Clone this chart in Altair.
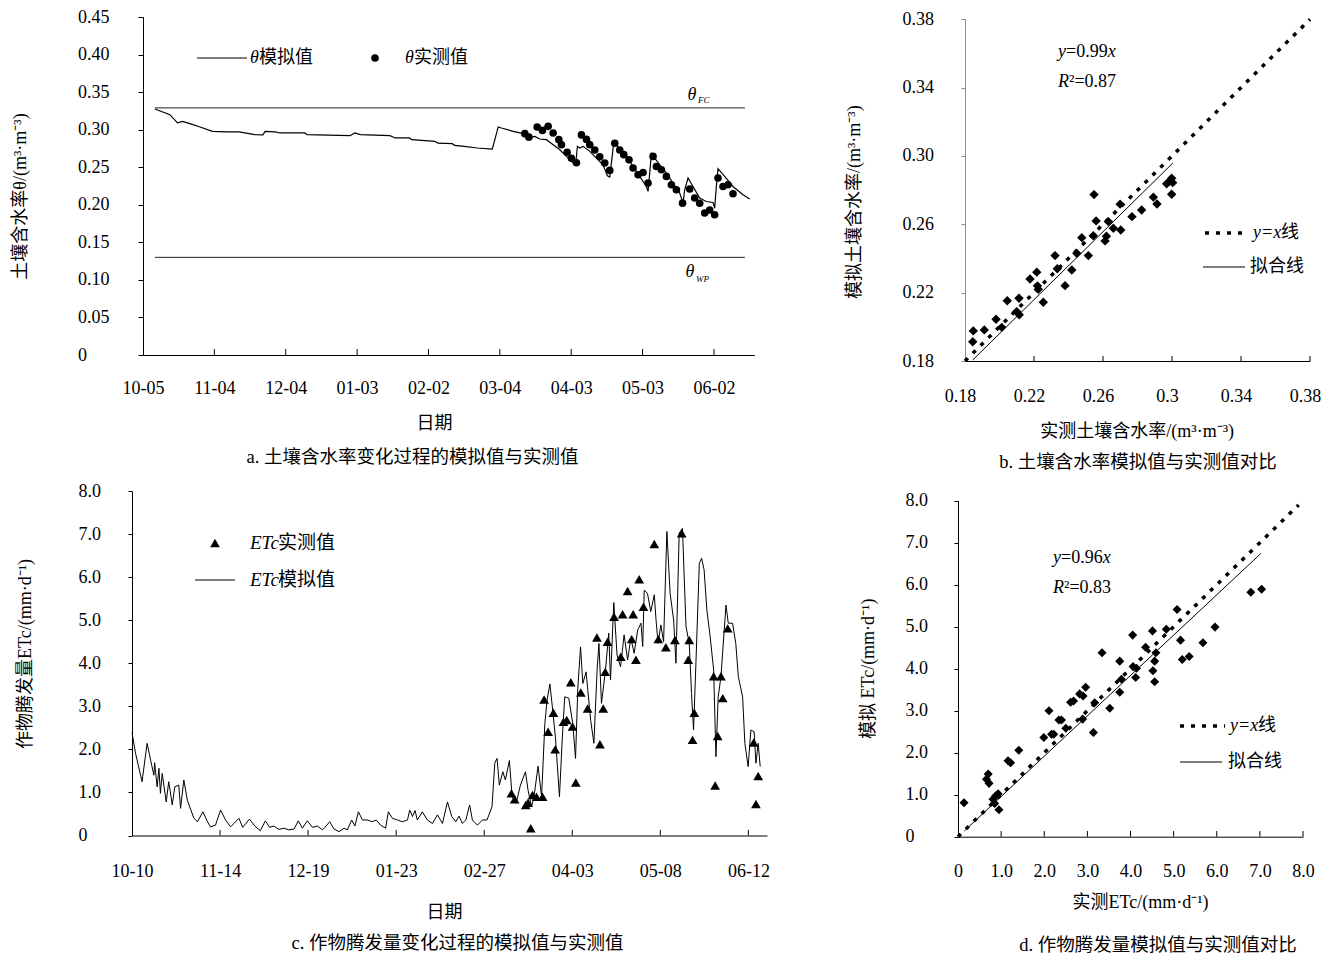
import altair as alt
import pandas as pd

FONT = "Liberation Serif, Noto Sans CJK SC"
ROW = pd.DataFrame({"k": [0]})

# ---------------- panel a : soil water content time series ----------------
a_sim = [(5, 0.3276), (11.3, 0.320), (14.5, 0.309), (16.6, 0.311), (19.7, 0.308), (24, 0.3036),
         (29.2, 0.2977), (35.5, 0.297), (40.4, 0.297), (47, 0.2933), (50.4, 0.293), (51.3, 0.2977),
         (55.5, 0.297), (57.6, 0.2956), (68, 0.2956), (69, 0.2933), (87, 0.292), (89, 0.2956),
         (91.4, 0.2933), (103.8, 0.292), (106, 0.289), (112, 0.289), (113, 0.2867), (122.7, 0.2844),
         (124, 0.282), (130, 0.2813), (131, 0.279), (135, 0.2778), (140.5, 0.2756), (146.8, 0.2742),
         (147.9, 0.2867), (149.3, 0.3036), (150.7, 0.3022), (155.6, 0.2978), (159.8, 0.2947),
         (162.6, 0.2898), (164.7, 0.2911), (166.8, 0.2876), (169.6, 0.2867), (172.4, 0.28),
         (175.2, 0.2733), (178, 0.2644), (180.8, 0.2556), (181.9, 0.2547), (182.6, 0.2778),
         (183.6, 0.2756), (185, 0.2778), (187.8, 0.2711), (190.6, 0.2622), (193.4, 0.2533),
         (195.2, 0.2387), (196.2, 0.2369), (197.3, 0.2667), (197.9, 0.2844), (200.4, 0.2742),
         (203.2, 0.2644), (206, 0.2511), (208.8, 0.2378), (211.6, 0.2244), (212.3, 0.2178),
         (213, 0.2422), (213.7, 0.268), (215.1, 0.2622), (217.2, 0.2533), (220, 0.2422),
         (222.8, 0.2289), (225.6, 0.2156), (227, 0.2022), (227.7, 0.22), (229.1, 0.2356),
         (231.2, 0.2244), (234, 0.2089), (236.8, 0.2044), (239.6, 0.2031), (240.3, 0.1956),
         (241, 0.2244), (241.7, 0.248), (244.5, 0.2378), (248, 0.2244), (252.2, 0.2133), (255, 0.2076)]
a_obs = [(160.5, 0.2947), (162.2, 0.290), (165.7, 0.3036), (167.9, 0.299), (170.3, 0.3044),
         (172.4, 0.2956), (174.8, 0.2867), (175.9, 0.28), (178.3, 0.270), (180.1, 0.262),
         (182.2, 0.256), (184.3, 0.293), (186.4, 0.287), (187.8, 0.28), (189.9, 0.273), (192, 0.264),
         (194.1, 0.2556), (196.2, 0.2458), (198.3, 0.282), (200.4, 0.273), (202.1, 0.2667),
         (204.3, 0.26), (206, 0.249), (208.1, 0.24), (210.2, 0.243), (212.3, 0.229), (214.4, 0.2644),
         (215.8, 0.251), (217.9, 0.2467), (220, 0.2378), (222.1, 0.2267), (224.2, 0.22),
         (226.8, 0.2022), (229.8, 0.221), (231.9, 0.209), (234, 0.202), (236.1, 0.189),
         (238.2, 0.193), (240.3, 0.1867), (241.7, 0.2356), (243.8, 0.2244), (245.9, 0.2267),
         (248, 0.2147)]
a_limit_days = [5, 253]
a_theta_fc = 0.329
a_theta_wp = 0.13
a_xticks = [0, 30, 60, 90, 120, 150, 180, 210, 240]
a_xlabels = ["10-05", "11-04", "12-04", "01-03", "02-02", "03-04", "04-03", "05-03", "06-02"]
a_yticks = [0, 0.05, 0.1, 0.15, 0.2, 0.25, 0.3, 0.35, 0.4, 0.45]

# ---------------- panel b : simulated vs measured soil water ----------------
b_obs = [(0.1845, 0.1913), (0.1848, 0.1976), (0.1912, 0.1982), (0.198, 0.2044), (0.2013, 0.1997),
         (0.2045, 0.2153), (0.21, 0.2089), (0.2113, 0.2167), (0.2115, 0.207), (0.2177, 0.228),
         (0.2216, 0.232), (0.222, 0.224), (0.2225, 0.222), (0.2254, 0.2144), (0.2322, 0.2417),
         (0.2335, 0.234), (0.238, 0.2241), (0.2419, 0.2333), (0.2448, 0.243), (0.2477, 0.2522),
         (0.2515, 0.2417), (0.2548, 0.2774), (0.256, 0.262), (0.2544, 0.2533), (0.262, 0.253),
         (0.2612, 0.2503), (0.2631, 0.2616), (0.266, 0.2577), (0.2703, 0.2567), (0.2699, 0.2718),
         (0.2768, 0.2645), (0.2824, 0.2684), (0.2892, 0.2759), (0.2913, 0.2719), (0.2969, 0.2837),
         (0.2984, 0.285), (0.2998, 0.287), (0.2998, 0.2776), (0.3004, 0.2844)]
b_yx = [0.18, 0.38]
b_fit_x = [0.1845, 0.3004]
b_fit_y = [0.1806, 0.2958]
b_ticks = [0.18, 0.22, 0.26, 0.3, 0.34, 0.38]

# ---------------- panel c : ETc time series ----------------
c_sim = [(0, 2.39), (1.4, 1.91), (4, 1.25), (6, 2.14), (7.4, 1.75), (8.7, 1.4), (9, 1.69), (10, 1.13),
         (10.7, 1.56), (11.3, 0.98), (12, 1.44), (13.6, 0.78), (14.6, 1.25), (16, 0.71), (17, 1.13),
         (18.6, 1.17), (19.3, 0.63), (20.6, 1.29), (22, 0.82), (24.6, 0.4), (26, 0.32), (28.2, 0.55),
         (30, 0.32), (31.2, 0.2), (33.2, 0.24), (35.2, 0.59), (37.2, 0.36), (39.2, 0.2), (42.5, 0.4),
         (44, 0.19), (46.7, 0.38), (48.8, 0.22), (51, 0.11), (53, 0.34), (54.7, 0.19), (56.4, 0.22),
         (58.4, 0.14), (60.4, 0.17), (62.4, 0.13), (64.4, 0.15), (66.1, 0.34), (67.7, 0.17),
         (69.7, 0.34), (71.7, 0.19), (73.7, 0.22), (75.7, 0.13), (76.7, 0.19), (78.6, 0.32),
         (80.3, 0.15), (82.3, 0.09), (84.3, 0.17), (85.6, 0.13), (87.3, 0.36), (88.6, 0.22),
         (90, 0.55), (91.6, 0.36), (93.6, 0.36), (95.5, 0.32), (97.1, 0.36), (98.8, 0.24),
         (100.8, 0.17), (101.9, 0.55), (103.5, 0.4), (105.5, 0.36), (107.5, 0.32), (109.5, 0.36),
         (110.4, 0.59), (111.5, 0.44), (112.5, 0.58), (113.4, 0.36), (115.4, 0.55), (117.4, 0.36),
         (119.4, 0.28), (121.4, 0.48), (123.4, 0.28), (125.4, 0.78), (127.1, 0.44), (128.7, 0.32),
         (130, 0.45), (131.3, 0.28), (132.7, 0.36), (134.2, 0.71), (135.3, 0.36), (137.3, 0.24),
         (139.3, 0.36), (141.1, 0.36), (143.1, 0.67), (144.2, 1.68), (145.1, 1.79), (146, 1.17),
         (147.4, 1.48), (148.4, 1.29), (150, 1.74), (151.1, 0.9), (152.7, 0.75), (154.4, 1.17),
         (156.4, 1.48), (157.4, 1.06), (158.8, 0.67), (159.7, 0.86), (161.4, 1.61), (162.8, 0.9),
         (164.1, 2.6), (165, 3.15), (166.1, 3.52), (167, 3.03), (168.3, 2.29), (169.9, 0.9),
         (171, 2.22), (172, 3.22), (173.6, 3.19), (175.2, 2.6), (176.3, 1.79), (177.2, 3.42),
         (178.3, 4.38), (179.2, 3.53), (180.5, 3.8), (182.3, 2.68), (183.6, 2.14), (184.9, 3.88),
         (185.6, 4.46), (186.6, 3.07), (188.2, 3.84), (189.5, 4.7), (190.2, 3.61), (191.5, 5.41),
         (192.8, 4.19), (194.2, 3.92), (195.6, 4.66), (197, 4.08), (198.3, 4.58), (199.6, 4.23),
         (201, 4.77), (202.3, 4.93), (203, 4.39), (203.6, 5.7), (204.9, 5.62), (206.2, 5.2),
         (207.6, 5.59), (208.3, 5.0), (209.1, 4.46), (210.2, 4.89), (211.3, 4.5), (212.6, 7.06),
         (213.9, 5.62), (215.3, 5.0), (216.2, 4.0), (217.5, 7.02), (218.8, 7.13), (220.2, 4.85),
         (221.5, 4.46), (222.4, 3.3), (223.2, 2.45), (224.1, 3.92), (225.5, 6.32), (226.4, 6.44),
         (227.4, 6.17), (228.5, 5.24), (229.8, 4.62), (231.2, 3.84), (232.1, 1.83), (233, 3.22),
         (234.1, 3.69), (235.4, 4.77), (236.1, 5.35), (237, 4.93), (238.7, 4.93), (240, 4.46),
         (241, 3.69), (242.7, 3.22), (243.6, 2.14), (244.9, 1.6), (246, 2.45), (247.3, 2.41),
         (248, 1.68), (248.9, 2.14), (249.7, 1.6)]
c_obs = [(150.8, 0.98), (152.1, 0.84), (156.5, 0.71), (157.4, 0.76), (158.5, 0.17), (159.2, 0.94),
         (160.8, 0.9), (163.2, 0.9), (163.8, 3.16), (165.4, 2.41), (167.5, 2.85), (168.2, 2.0),
         (171.5, 2.64), (172.8, 2.68), (174.4, 3.56), (175.1, 2.53), (176.4, 1.23), (178.4, 3.32),
         (181.1, 2.95), (184.8, 4.6), (186, 2.12), (187.3, 2.95), (188.1, 3.8), (189, 4.5),
         (191.6, 5.08), (194.3, 4.15), (195, 5.14), (197, 5.68), (198.6, 4.56), (199.2, 5.14),
         (200.3, 4.08), (201.6, 5.95), (203.3, 5.31), (207.6, 6.77), (209.2, 4.56), (212.2, 4.37),
         (215.8, 4.54), (218.5, 7.02), (221.5, 4.54), (221.1, 4.08), (222.8, 2.22), (223.5, 2.85),
         (231.2, 3.7), (231.8, 1.16), (232.8, 2.31), (234.1, 3.7), (234.8, 3.19), (236.8, 4.81),
         (247.1, 2.16), (248, 0.73), (248.9, 1.38)]
c_xticks = [0, 35, 70, 105, 140, 175, 210, 245]
c_xlabels = ["10-10", "11-14", "12-19", "01-23", "02-27", "04-03", "05-08", "06-12"]
c_yticks = [0, 1, 2, 3, 4, 5, 6, 7, 8]

# ---------------- panel d : simulated vs measured ETc ----------------
d_obs = [(0.14, 0.81), (0.66, 1.37), (0.7, 1.49), (0.72, 1.27), (0.81, 0.89), (0.85, 0.79),
         (0.87, 0.97), (0.93, 1.02), (0.95, 0.64), (1.16, 1.81), (1.22, 1.76), (1.41, 2.06),
         (1.99, 2.36), (2.11, 3.0), (2.17, 2.44), (2.22, 2.44), (2.34, 2.78), (2.4, 2.78), (2.5, 2.58),
         (2.61, 3.2), (2.68, 3.23), (2.82, 3.4), (2.9, 3.35), (2.96, 3.56), (2.89, 2.8), (3.14, 2.48),
         (3.17, 3.19), (3.34, 4.38), (3.52, 3.06), (3.75, 4.18), (3.75, 3.44), (3.79, 3.75),
         (4.05, 4.8), (4.06, 4.05), (4.12, 3.79), (4.14, 4.01), (4.35, 4.51), (4.51, 4.9),
         (4.52, 3.95), (4.56, 3.69), (4.56, 4.18), (4.59, 4.38), (4.83, 4.94), (5.08, 5.41),
         (5.16, 4.68), (5.2, 4.22), (5.36, 4.29), (5.68, 4.62), (5.96, 4.99), (6.79, 5.82), (7.04, 5.89)]
d_yx = [0, 7.9]
d_fit_x = [0.15, 7.02]
d_fit_y = [0.14, 6.74]
d_ticks = [0, 1, 2, 3, 4, 5, 6, 7, 8]


# ---------------- helpers ----------------
def txt(s, x, y, size=18, italic=False, align="left"):
    return alt.Chart(ROW).mark_text(
        text=s, font=FONT, fontSize=size, fontStyle="italic" if italic else "normal",
        align=align, baseline="middle", color="black"
    ).encode(x=alt.value(x), y=alt.value(y))


def seg(x1, x2, y, dash=None, width=1.0):
    kw = dict(color="black", strokeWidth=width)
    if dash:
        kw["strokeDash"] = dash
    return alt.Chart(ROW).mark_rule(**kw).encode(x=alt.value(x1), x2=alt.value(x2), y=alt.value(y))


def lab_expr(labels, step):
    return "[" + ",".join("'%s'" % s for s in labels) + "][round(datum.value/%d)]" % step


ZERO1 = "datum.value == 0 ? '0' : format(datum.value, '.1f')"
ZERO2 = "datum.value == 0 ? '0' : format(datum.value, '.2f')"
LSIZE = 18


def xaxis(values, expr, pad, offset, title, tx, ty, lo=0):
    return alt.Axis(values=values, labelExpr=expr, labelFlush=False, labelOverlap=False,
                    tickSize=0, labelPadding=pad, labelBaseline="middle", labelAlign="center",
                    labelOffset=lo, offset=offset, domainColor="black", grid=False,
                    labelFont=FONT, labelFontSize=LSIZE, labelColor="black",
                    title=title, titleX=tx, titleY=ty, titleAngle=0, titleAlign="center",
                    titleBaseline="middle", titleFont=FONT, titleFontSize=18,
                    titleFontWeight="normal", titleColor="black")


def yaxis(values, expr, pad, offset, title, tx, ty, tick=4, color="black"):
    return alt.Axis(values=values, labelExpr=expr, labelFlush=False, labelOverlap=False,
                    tickSize=tick, tickColor=color, domainColor=color, labelPadding=pad,
                    labelBaseline="middle", labelAlign="left", offset=offset, grid=False,
                    labelFont=FONT, labelFontSize=LSIZE, labelColor="black",
                    title=title, titleX=tx, titleY=ty, titleAngle=270, titleAlign="center",
                    titleBaseline="middle", titleFont=FONT, titleFontSize=18,
                    titleFontWeight="normal", titleColor="black")


W1, W2, H = 635, 352, 346

# ---------------- panel a ----------------
a_xs = alt.Scale(domain=[0, 257], range=[11, 622.4], nice=False, zero=False)
a_ys = alt.Scale(domain=[0, 0.45], range=[338, 0], nice=False, zero=False)
a_xa = xaxis(a_xticks, lab_expr(a_xlabels, 30), 33, -8, "日期", 302, 68)
a_ya = yaxis(a_yticks, ZERO2, 60.5, -11, "土壤含水率θ/(m³·m⁻³)", -123, 179, tick=5)
AX = lambda f: alt.X(f, type="quantitative", scale=a_xs, axis=a_xa)
AY = lambda f: alt.Y(f, type="quantitative", scale=a_ys, axis=a_ya)

a_df = pd.DataFrame(a_sim, columns=["d", "v"])
a_obs_df = pd.DataFrame(a_obs, columns=["d", "v"])
a_lim_df = pd.DataFrame({"d0": [a_limit_days[0]] * 2, "d1": [a_limit_days[1]] * 2,
                         "v": [a_theta_fc, a_theta_wp]})
a_tick_df = pd.DataFrame({"t": a_xticks[1:]})

panel_a = alt.layer(
    alt.Chart(ROW).mark_rule(strokeOpacity=0, color="white").encode(
        x=alt.value(-132), x2=alt.value(-131), y=alt.value(-17)),
    alt.Chart(a_lim_df).mark_rule(color="#222222", strokeWidth=1).encode(x=AX("d0"), x2="d1", y=AY("v")),
    alt.Chart(a_df).mark_line(color="black", strokeWidth=1.2).encode(x=AX("d"), y=AY("v")),
    alt.Chart(a_obs_df).mark_point(shape="circle", filled=True, size=58, color="black", opacity=1).encode(
        x=AX("d"), y=AY("v")),
    alt.Chart(a_tick_df).mark_rule(color="black").encode(x=AX("t"), y=alt.value(338), y2=alt.value(332)),
    seg(65, 115, 41),
    txt("θ", 118, 41, italic=True), txt("模拟值", 127, 41),
    alt.Chart(ROW).mark_point(shape="circle", filled=True, size=58, color="black", opacity=1).encode(
        x=alt.value(243), y=alt.value(41)),
    txt("θ", 273, 41, italic=True), txt("实测值", 282, 41),
    txt("θ", 560, 78, italic=True, align="center"), txt("FC", 566, 83, size=9, italic=True),
    txt("θ", 558, 255, italic=True, align="center"), txt("WP", 564, 262, size=9, italic=True),
    txt("a. 土壤含水率变化过程的模拟值与实测值", 280.5, 440, size=18.5, align="center"),
).properties(width=W1, height=H)

# ---------------- panel b ----------------
b_xs = alt.Scale(domain=[0.18, 0.38], range=[7, 352], nice=False, zero=False)
b_ys = alt.Scale(domain=[0.18, 0.38], range=[344, 2.3], nice=False, zero=False)
b_xa = xaxis(b_ticks, "format(datum.value, '.2~f')", 35.7, -2, "实测土壤含水率/(m³·m⁻³)", 178.7, 70.7, lo=-5)
b_ya = yaxis(b_ticks, "format(datum.value, '.2f')", 59, -7, "模拟土壤含水率/(m³·m⁻³)", -111, 184.7,
             color="#8c8c8c")
BX = lambda f: alt.X(f, type="quantitative", scale=b_xs, axis=b_xa)
BY = lambda f: alt.Y(f, type="quantitative", scale=b_ys, axis=b_ya)

b_df = pd.DataFrame(b_obs, columns=["m", "s"])
b_yx_df = pd.DataFrame({"m": b_yx, "s": b_yx})
b_fit_df = pd.DataFrame({"m": b_fit_x, "s": b_fit_y})
b_tick_df = pd.DataFrame({"t": b_ticks[1:]})

panel_b = alt.layer(
    alt.Chart(b_yx_df).mark_line(color="black", strokeWidth=3.5, strokeDash=[4, 7]).encode(x=BX("m"), y=BY("s")),
    alt.Chart(b_fit_df).mark_line(color="black", strokeWidth=1).encode(x=BX("m"), y=BY("s")),
    alt.Chart(b_df).mark_point(shape="diamond", filled=True, size=88, color="black", opacity=1).encode(
        x=BX("m"), y=BY("s")),
    alt.Chart(b_tick_df).mark_rule(color="black").encode(x=BX("t"), y=alt.value(344), y2=alt.value(339)),
    txt("y", 100, 35, italic=True), txt("=0.99", 108, 35), txt("x", 149.7, 35, italic=True),
    txt("R", 100, 65, italic=True), txt("²=0.87", 111, 65),
    seg(247, 290, 216, dash=[4, 7], width=3.5),
    txt("y=x", 295, 216, italic=True), txt("线", 323, 216),
    seg(245, 287, 250),
    txt("拟合线", 292, 250),
    txt("b. 土壤含水率模拟值与实测值对比", 180, 445, size=18.5, align="center"),
).properties(width=W2, height=H)

# ---------------- panel c ----------------
c_xs = alt.Scale(domain=[0, 252.4], range=[0, 635], nice=False, zero=False)
c_ys = alt.Scale(domain=[0, 8], range=[344.5, 0], nice=False, zero=False)
c_xa = xaxis(c_xticks, lab_expr(c_xlabels, 35), 36, -1.5, "日期", 312, 76.5)
c_ya = yaxis(c_yticks, ZERO1, 50, 0, "作物腾发量ETc/(mm·d⁻¹)", -106.5, 162.5)
CX = lambda f: alt.X(f, type="quantitative", scale=c_xs, axis=c_xa)
CY = lambda f: alt.Y(f, type="quantitative", scale=c_ys, axis=c_ya)

c_df = pd.DataFrame(c_sim, columns=["d", "v"])
c_obs_df = pd.DataFrame(c_obs, columns=["d", "v"])
c_tick_df = pd.DataFrame({"t": c_xticks[1:]})

panel_c = alt.layer(
    alt.Chart(c_df).mark_line(color="black", strokeWidth=1).encode(x=CX("d"), y=CY("v")),
    alt.Chart(c_obs_df).mark_point(shape="triangle-up", filled=True, size=95, color="black", opacity=1).encode(
        x=CX("d"), y=CY("v")),
    alt.Chart(c_tick_df).mark_rule(color="black").encode(x=CX("t"), y=alt.value(344.5), y2=alt.value(339)),
    alt.Chart(ROW).mark_point(shape="triangle-up", filled=True, size=95, color="black", opacity=1).encode(
        x=alt.value(83), y=alt.value(52)),
    txt("ETc", 118, 52, size=19, italic=True), txt("实测值", 146, 52, size=19),
    seg(63, 103, 89),
    txt("ETc", 118, 89, size=19, italic=True), txt("模拟值", 146, 89, size=19),
    txt("c. 作物腾发量变化过程的模拟值与实测值", 325.5, 452, size=18.5, align="center"),
).properties(width=W1, height=H)

# ---------------- panel d ----------------
d_xs = alt.Scale(domain=[0, 8], range=[0, 345], nice=False, zero=False)
d_ys = alt.Scale(domain=[0, 8], range=[345.7, 9.7], nice=False, zero=False)
d_xa = xaxis(d_ticks, ZERO1, 34.7, -0.3, "实测ETc/(mm·d⁻¹)", 182, 66)
d_ya = yaxis(d_ticks, ZERO1, 49, 0, "模拟 ETc/(mm·d⁻¹)", -89.7, 177.3)
DX = lambda f: alt.X(f, type="quantitative", scale=d_xs, axis=d_xa)
DY = lambda f: alt.Y(f, type="quantitative", scale=d_ys, axis=d_ya)

d_df = pd.DataFrame(d_obs, columns=["m", "s"])
d_yx_df = pd.DataFrame({"m": d_yx, "s": d_yx})
d_fit_df = pd.DataFrame({"m": d_fit_x, "s": d_fit_y})
d_tick_df = pd.DataFrame({"t": d_ticks[1:]})

panel_d = alt.layer(
    alt.Chart(d_yx_df).mark_line(color="black", strokeWidth=3.5, strokeDash=[4, 7]).encode(x=DX("m"), y=DY("s")),
    alt.Chart(d_fit_df).mark_line(color="black", strokeWidth=1).encode(x=DX("m"), y=DY("s")),
    alt.Chart(d_df).mark_point(shape="diamond", filled=True, size=82, color="black", opacity=1).encode(
        x=DX("m"), y=DY("s")),
    alt.Chart(d_tick_df).mark_rule(color="black").encode(x=DX("t"), y=alt.value(345.7), y2=alt.value(340)),
    txt("y", 95, 67, italic=True), txt("=0.96", 103, 67), txt("x", 144.7, 67, italic=True),
    txt("R", 95, 97, italic=True), txt("²=0.83", 106, 97),
    seg(222, 267, 235, dash=[4, 7], width=3.5),
    txt("y=x", 272, 235, italic=True), txt("线", 300, 235),
    seg(222, 264, 271),
    txt("拟合线", 270, 271),
    txt("d. 作物腾发量模拟值与实测值对比", 200, 454, size=18.5, align="center"),
).properties(width=W2, height=H)

chart = alt.concat(
    panel_a, panel_b, panel_c, panel_d,
    columns=2, spacing={"row": 128, "column": 191}, bounds="flush", align="all",
).properties(padding=0, background="white").configure_view(stroke=None)

chart.save("out.html", embed_options={"renderer": "svg", "actions": False})
